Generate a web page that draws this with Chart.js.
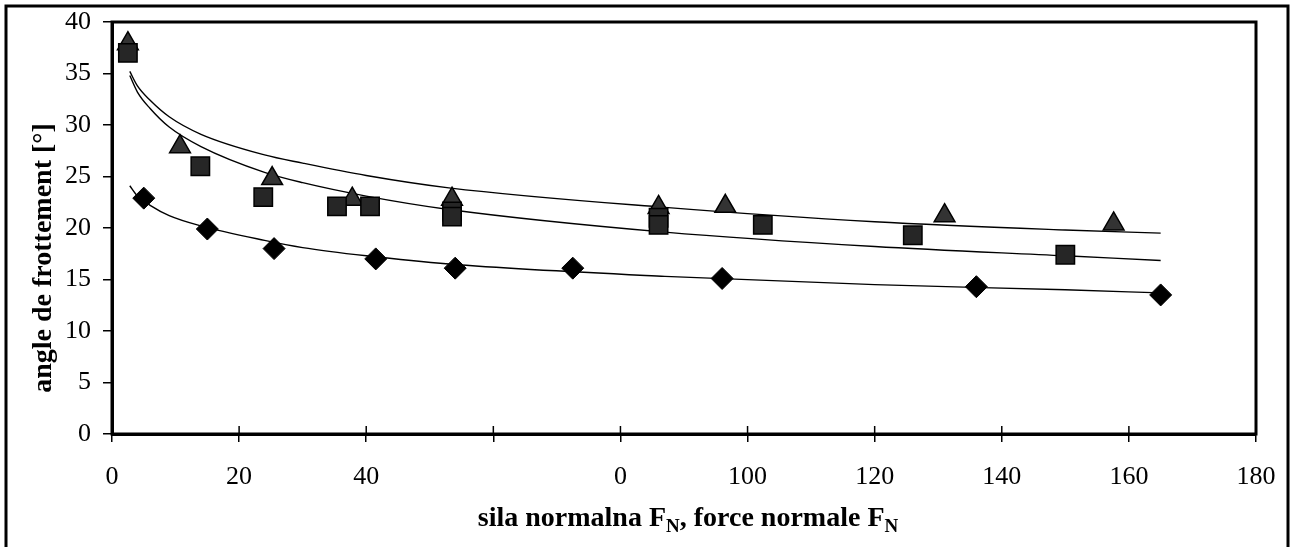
<!DOCTYPE html>
<html>
<head>
<meta charset="utf-8">
<script src="https://cdn.jsdelivr.net/npm/chart.js@4"></script>
<style>
  html, body { margin: 0; padding: 0; background: #fff; }
  #wrap { width: 1296px; height: 547px; }
</style>
</head>
<body>
<div id="wrap"><canvas id="frictionChart" width="1296" height="547"></canvas></div>
<script>
// ---- DATA ----
const diamondX = [5, 15, 25.5, 41.5, 54, 72.5, 96, 136, 165];
const diamondY = [22.9, 19.9, 18.0, 17.0, 16.1, 16.1, 15.1, 14.3, 13.5];

const triangleX = [2.5, 10.7, 25.2, 37.8, 53.5, 86, 96.5, 131, 157.6];
const triangleY = [37.9, 27.9, 24.8, 22.8, 22.8, 22.0, 22.1, 21.2, 20.4];

const squareX = [2.5, 13.9, 23.8, 35.4, 40.6, 53.5, 53.5, 86, 86, 102.4, 126, 150];
const squareY = [37.0, 26.0, 23.0, 22.1, 22.1, 21.6, 21.1, 21.0, 20.3, 20.3, 19.3, 17.4];

// trend curves
const trendX = [2.8, 4, 6, 9, 14, 24, 30, 40, 53, 87, 120, 150, 165];
const trendTriangle = [35.2, 33.8, 32.4, 30.8, 29.1, 27.1, 26.3, 25.1, 23.9, 22.0, 20.6, 19.8, 19.5];
const trendSquare = [34.8, 33.2, 31.6, 29.8, 27.9, 25.4, 24.4, 23.1, 21.8, 19.6, 18.2, 17.3, 16.85];
const trendDiamond = [24.1, 23.1, 22.2, 21.2, 20.2, 18.8, 18.1, 17.3, 16.5, 15.3, 14.5, 14.0, 13.7];

const xTickLabels = ['0', '20', '40', '', '0', '100', '120', '140', '160', '180'];
const yTickLabels = ['0', '5', '10', '15', '20', '25', '30', '35', '40'];

const yTitle = 'angle de frottement [°]';
const xTitleParts = [['sila normalna F', false], ['N', true], [', force normale F', false], ['N', true]];

function pts(xs, ys){
  return xs.map((x, i) => ({ x: x, y: ys[i] }));
}

const SERIF = '"Liberation Serif", "DejaVu Serif", serif';

// ---- frame, inner ticks and axis titles ----
const framePlugin = {
  id: 'frame',
  afterDraw(chart){
    const ctx = chart.ctx;
    const a = chart.chartArea;
    const xs = chart.scales.x;
    ctx.save();
    ctx.strokeStyle = '#000';

    // outer border of the figure
    ctx.lineWidth = 3;
    ctx.strokeRect(6, 6, 1282, 560);

    // plot box
    ctx.lineWidth = 3;
    ctx.strokeRect(a.left, a.top, a.right - a.left, a.bottom - a.top);

    // x ticks also cross into the plot
    ctx.lineWidth = 1.5;
    xs.ticks.forEach(t => {
      const px = xs.getPixelForValue(t.value);
      ctx.beginPath();
      ctx.moveTo(px, a.bottom - 8);
      ctx.lineTo(px, a.bottom);
      ctx.stroke();
    });

    ctx.fillStyle = '#000';

    // x title with subscripts
    const mainFont = 'bold 28px ' + SERIF;
    const subFont = 'bold 19px ' + SERIF;
    let total = 0;
    xTitleParts.forEach(p => {
      ctx.font = p[1] ? subFont : mainFont;
      total += ctx.measureText(p[0]).width;
    });
    let cx = (a.left + a.right) / 2 - total / 2 + 4;
    const baseY = 526;
    ctx.textBaseline = 'alphabetic';
    ctx.textAlign = 'left';
    xTitleParts.forEach(p => {
      ctx.font = p[1] ? subFont : mainFont;
      ctx.fillText(p[0], cx, p[1] ? baseY + 6 : baseY);
      cx += ctx.measureText(p[0]).width;
    });

    // y title
    ctx.translate(44, 258);
    ctx.rotate(-Math.PI / 2);
    ctx.font = mainFont;
    ctx.textAlign = 'center';
    ctx.textBaseline = 'middle';
    ctx.fillText(yTitle, 0, 0);
    ctx.restore();
  }
};

function criarGrafico(){
  const ctx = document.getElementById('frictionChart').getContext('2d');

  const curve = (data) => ({
    type: 'line',
    data: data,
    showLine: true,
    borderColor: '#000',
    borderWidth: 1.4,
    pointRadius: 0,
    cubicInterpolationMode: 'monotone',
    fill: false,
    order: 3
  });

  new Chart(ctx, {
    type: 'scatter',
    data: {
      datasets: [
        curve(pts(trendX, trendTriangle)),
        curve(pts(trendX, trendSquare)),
        curve(pts(trendX, trendDiamond)),
        {
          data: pts(triangleX, triangleY),
          pointStyle: 'triangle',
          pointRadius: 12,
          backgroundColor: '#333',
          borderColor: '#000',
          borderWidth: 1.5,
          order: 2
        },
        {
          data: pts(squareX, squareY),
          pointStyle: 'rect',
          pointRadius: 13,
          backgroundColor: '#262626',
          borderColor: '#000',
          borderWidth: 1.5,
          order: 1
        },
        {
          data: pts(diamondX, diamondY),
          pointStyle: 'rectRot',
          pointRadius: 11,
          backgroundColor: '#000',
          borderColor: '#000',
          borderWidth: 1,
          order: 1
        }
      ]
    },
    options: {
      responsive: false,
      animation: false,
      layout: { padding: { left: 0, top: 22, right: 40, bottom: 0 } },
      plugins: {
        legend: { display: false },
        tooltip: { enabled: false }
      },
      scales: {
        x: {
          type: 'linear',
          min: 0,
          max: 180,
          afterFit: s => { s.height = 113; s.paddingLeft = 0; s.paddingRight = 0; },
          ticks: {
            stepSize: 20,
            color: '#000',
            padding: 20,
            font: { family: SERIF, size: 26 },
            callback: (v, i) => xTickLabels[i]
          },
          grid: { drawOnChartArea: false, tickLength: 8, color: '#000', lineWidth: 1.5 },
          border: { color: '#000', width: 3 }
        },
        y: {
          min: 0,
          max: 40,
          afterFit: s => { s.width = 112; s.paddingTop = 0; s.paddingBottom = 0; },
          ticks: {
            stepSize: 5,
            color: '#000',
            padding: 12,
            font: { family: SERIF, size: 26 },
            callback: (v, i) => yTickLabels[i]
          },
          grid: { drawOnChartArea: false, tickLength: 9, color: '#000', lineWidth: 1.5 },
          border: { color: '#000', width: 3 }
        }
      }
    },
    plugins: [framePlugin]
  });
}

criarGrafico();
</script>
</body>
</html>
